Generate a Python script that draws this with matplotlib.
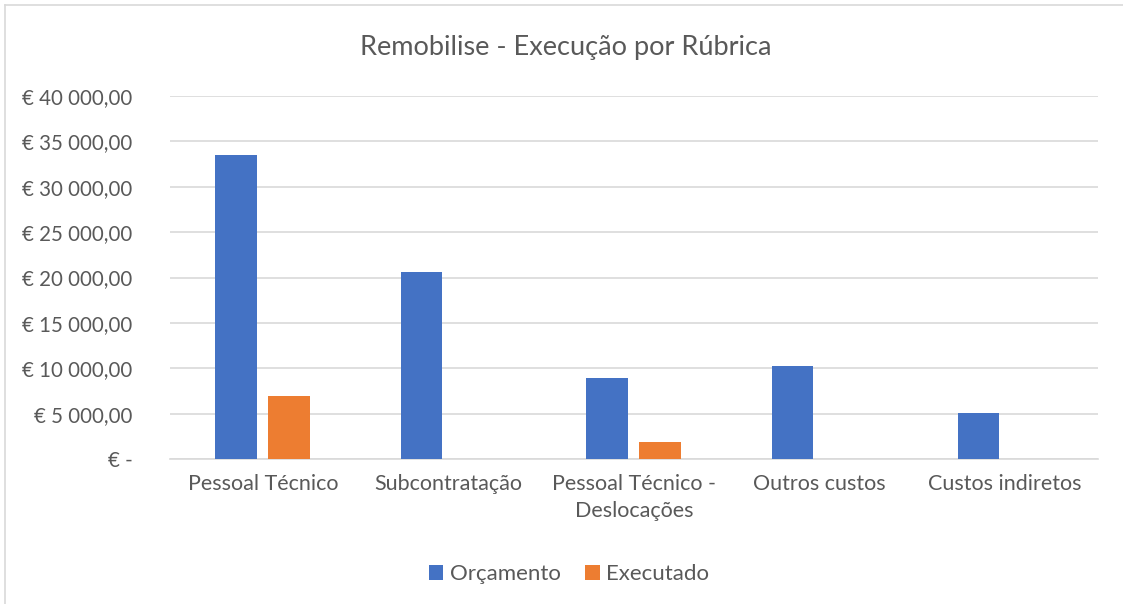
import matplotlib.pyplot as plt
import numpy as np
from matplotlib.ticker import FuncFormatter

categorias = ["Pessoal Técnico", "Subcontratação", "Pessoal Técnico -\nDeslocações",
              "Outros custos", "Custos indiretos"]
orcamento = [33550, 20650, 8960, 10250, 5100]
executado = [6900, 0, 1830, 0, 0]

azul = "#4472C4"
laranja = "#ED7D31"
cinza = "#595959"

plt.rcParams["font.family"] = ["Lato", "DejaVu Sans"]

fig = plt.figure(figsize=(11.23, 6.04), dpi=100)
ax = fig.add_axes([170/1123, 1-459/604, (1098-170)/1123, (459-96)/604])

x = np.arange(len(categorias))
larg = 0.224
ax.bar(x - 0.145, orcamento, larg, color=azul, label="Orçamento", zorder=3)
ax.bar(x + 0.140, executado, larg, color=laranja, label="Executado", zorder=3)

def euro(v, pos):
    if v == 0:
        return "€ -"
    s = f"{v:,.2f}".replace(",", " ").replace(".", ",")
    return "€ " + s

ax.set_ylim(0, 40000)
ax.set_xlim(-0.5, len(categorias) - 0.5)
ax.set_yticks(np.arange(0, 40001, 5000))
ax.yaxis.set_major_formatter(FuncFormatter(euro))
ax.set_xticks(x)
ax.set_xticklabels(categorias, fontsize=15.5, linespacing=1.45)
ax.grid(axis="y", color="#D9D9D9", linewidth=1.2, zorder=0)
for s in ["top", "right", "left"]:
    ax.spines[s].set_visible(False)
ax.spines["bottom"].set_color("#D9D9D9")
ax.spines["bottom"].set_linewidth(1.2)
ax.tick_params(axis="both", length=0, colors=cinza)
ax.tick_params(axis="y", pad=27, labelsize=14.8)
ax.tick_params(axis="x", pad=11)

fig.text(566/1123, 1-47/604, "Remobilise - Execução por Rúbrica", ha="center", va="center",
         fontsize=19.5, color=cinza)

fig.legend(loc="center", bbox_to_anchor=(569/1123, 1-574/604), ncol=2, frameon=False,
           fontsize=16, labelcolor=cinza, handlelength=0.65, handleheight=0.65,
           handletextpad=0.3, columnspacing=1.1)

# moldura do gráfico
fig.add_artist(plt.Line2D([5/1123, 5/1123], [0, 1-5/604], color="#D9D9D9", linewidth=1.2))
fig.add_artist(plt.Line2D([5/1123, 1], [1-5/604, 1-5/604], color="#D9D9D9", linewidth=1.2))

fig.savefig("out.png", dpi=100)
